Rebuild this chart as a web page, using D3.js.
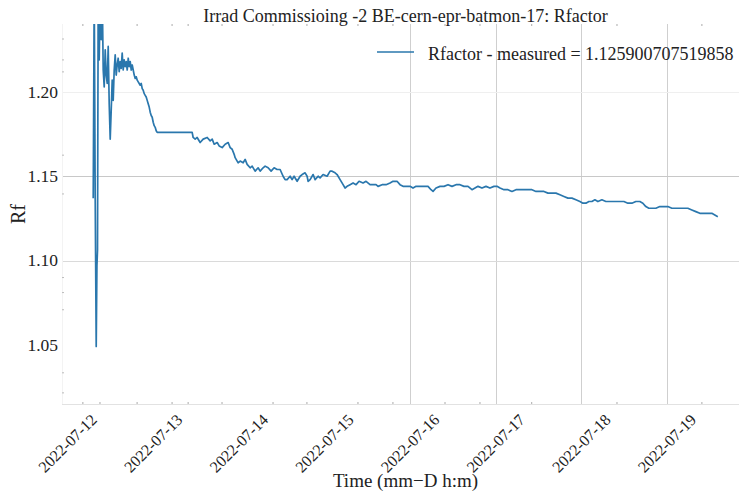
<!DOCTYPE html>
<html>
<head>
<meta charset="utf-8">
<script src="https://cdn.jsdelivr.net/npm/d3@7"></script>
<style>
  html, body { margin: 0; padding: 0; background: #fff; }
  svg { display: block; }
  text { font-family: "Liberation Serif", "DejaVu Serif", serif; fill: #222; }
</style>
</head>
<body>
<svg id="chart" width="739" height="502"></svg>
<script>
// Rfactor readings of BE-cern-epr-batmon-17, hours elapsed since 2022-07-12 00:00
const startDate = new Date(2022, 6, 12, 0, 0, 0);

const hours = [
  7.20, 7.48, 7.76, 8.04, 8.24, 8.40, 8.60, 8.88, 9.16, 9.44, 9.72, 10.00, 10.28, 10.56, 10.84,
  11.12, 11.40, 11.68, 11.96, 12.24, 12.52, 12.80, 13.08, 13.36, 13.64, 13.92, 14.20, 14.48, 14.76,
  15.04, 15.32, 15.60, 15.88, 16.16, 16.45, 16.73, 17.01, 17.29, 17.57, 17.85, 18.13, 18.41, 18.69,
  18.97, 19.25, 19.53, 19.81, 20.09, 20.37, 20.65, 20.93, 21.21, 21.49, 21.77, 22.05, 22.33, 22.61,
  22.89, 23.17, 23.45, 23.73, 24.01, 24.29, 24.57, 24.85, 25.13, 34.93,
  35.21, 35.77, 36.33, 37.17, 38.02, 39.14, 39.98, 40.54, 41.10, 41.94, 42.50, 43.34, 44.18, 45.02,
  45.58, 46.14, 46.70, 46.98, 47.54, 47.82, 48.38, 49.22, 49.78, 50.34, 51.18, 51.74, 52.58, 53.42,
  53.98, 54.82, 55.38, 56.22, 57.06, 57.90, 58.74, 59.58, 60.42, 60.98, 61.54, 62.38, 62.94, 63.50,
  64.35, 65.19, 65.75, 66.59, 67.15, 67.43, 67.99, 68.83, 69.39, 70.23, 70.79, 71.63, 72.75, 73.59,
  74.15, 74.99, 75.55, 76.39, 77.23, 77.79, 78.35, 79.19, 80.03, 80.87, 81.71, 82.83, 83.67, 84.79,
  85.63, 86.47, 87.03, 88.15, 89.27, 90.39, 91.23, 92.35, 93.19, 94.03, 95.15, 95.99, 96.83, 97.68,
  98.80, 99.92, 101.04, 101.88, 102.44, 103.28, 104.40, 105.52, 106.64, 107.76, 108.88, 110.00,
  111.12, 112.24, 113.36, 114.20, 115.04, 116.16, 117.28, 118.40, 119.52, 120.37, 121.21, 122.33,
  123.45, 124.57, 125.69, 126.81, 127.93, 129.05, 130.17, 131.29, 132.41, 133.53, 134.65, 135.77,
  136.89, 138.01, 139.13, 140.25, 141.37, 142.49, 143.61, 144.45, 145.29, 146.13, 146.97, 147.81,
  148.65, 149.77, 150.89, 152.01, 153.13, 153.97, 154.81, 155.93, 157.05, 158.17, 159.29, 160.41,
  161.25, 162.09, 162.93, 163.77, 164.89, 166.01, 167.13, 168.25, 169.38, 170.50, 171.62, 172.74,
  173.86, 174.98, 176.10, 177.22, 178.06, 178.90, 179.74, 180.58, 181.42, 182.26
];

const rfactor = [
  1.137, 1.260, 1.136, 1.049, 1.097, 1.106, 1.260, 1.219, 1.260, 1.231, 1.260, 1.213, 1.203, 1.225, 1.210,
  1.205, 1.227, 1.193, 1.172, 1.189, 1.207, 1.195, 1.213, 1.222, 1.210, 1.216, 1.220, 1.212, 1.218,
  1.214, 1.223, 1.213, 1.219, 1.215, 1.218, 1.213, 1.220, 1.215, 1.218, 1.213, 1.216, 1.213, 1.210,
  1.208, 1.209, 1.207, 1.206, 1.205, 1.204, 1.205, 1.202, 1.201, 1.199, 1.198, 1.197, 1.195, 1.193,
  1.191, 1.188, 1.186, 1.185, 1.182, 1.180, 1.179, 1.177, 1.176, 1.176,
  1.173, 1.172, 1.173, 1.170, 1.172, 1.173, 1.171, 1.172, 1.169, 1.170, 1.168, 1.167, 1.169, 1.170,
  1.167, 1.166, 1.163, 1.161, 1.159, 1.158, 1.159, 1.158, 1.160, 1.157, 1.155, 1.156, 1.153, 1.155,
  1.153, 1.155, 1.156, 1.155, 1.153, 1.155, 1.154, 1.154, 1.150, 1.148, 1.148, 1.150, 1.148, 1.150,
  1.147, 1.150, 1.151, 1.152, 1.150, 1.147, 1.148, 1.151, 1.148, 1.150, 1.149, 1.151, 1.150, 1.153,
  1.153, 1.152, 1.151, 1.148, 1.145, 1.143, 1.144, 1.145, 1.146, 1.145, 1.147, 1.146, 1.147, 1.145,
  1.145, 1.145, 1.144, 1.145, 1.145, 1.146, 1.147, 1.147, 1.145, 1.144, 1.144, 1.144, 1.143, 1.144,
  1.144, 1.144, 1.144, 1.142, 1.141, 1.143, 1.144, 1.144, 1.145, 1.144, 1.145, 1.145,
  1.144, 1.144, 1.142, 1.143, 1.144, 1.143, 1.144, 1.143, 1.144, 1.144, 1.143, 1.142,
  1.142, 1.141, 1.142, 1.142, 1.142, 1.142, 1.142, 1.141, 1.141, 1.141, 1.140, 1.140,
  1.140, 1.139, 1.138, 1.137, 1.137, 1.136, 1.135, 1.134, 1.134, 1.135, 1.135, 1.136,
  1.135, 1.136, 1.135, 1.135, 1.135, 1.135, 1.135, 1.135, 1.134, 1.134, 1.135, 1.135,
  1.134, 1.132, 1.131, 1.131, 1.131, 1.132, 1.132, 1.132, 1.131, 1.131, 1.131, 1.131,
  1.131, 1.130, 1.129, 1.128, 1.128, 1.128, 1.128, 1.128, 1.127, 1.126
];

const lastMeasured = 1.125900707519858;

const dateTickLabels = ["2022-07-12", "2022-07-13", "2022-07-14", "2022-07-15",
                        "2022-07-16", "2022-07-17", "2022-07-18", "2022-07-19"];
const yTickValues = [1.05, 1.10, 1.15, 1.20];
const yMinorTicks = [1.0215, 1.0334, 1.0708, 1.081, 1.0899, 1.1395, 1.1625, 1.2119, 1.219, 1.2314];
const xMinorTickHours = [4.3, 9.1, 19.5, 29.3, 33.8, 43.3, 57.6, 67.1, 81.4, 91.2, 105.8, 115.6, 130.1, 154.0, 177.8];

const titleText = "Irrad Commissioing -2 BE-cern-epr-batmon-17: Rfactor";
const xLabelText = "Time (mm\u2212D h:m)";
const yLabelText = "Rf";

// ---- layout ----
const HOUR = 3600 * 1000;
const plot = { left: 62, right: 749, top: 24, bottom: 404 };
const svg = d3.select("#chart");

const x = d3.scaleTime()
  .domain([new Date(+startDate - 1.55 * HOUR), new Date(+startDate + 191 * HOUR)])
  .range([plot.left, plot.right]);
const y = d3.scaleLinear()
  .domain([1.0149, 1.2403])
  .range([plot.bottom, plot.top]);

const parseDay = d3.timeParse("%Y-%m-%d");
const dateTicks = dateTickLabels.map(parseDay);
const points = hours.map((h, i) => ({ t: new Date(+startDate + h * HOUR), v: rfactor[i] }));

svg.append("defs").append("clipPath").attr("id", "plotClip")
  .append("rect")
  .attr("x", plot.left).attr("y", plot.top)
  .attr("width", plot.right - plot.left).attr("height", plot.bottom - plot.top);

// grid
const grid = svg.append("g");
grid.selectAll("line.vgrid")
  .data(dateTicks.filter(d => d >= parseDay("2022-07-16")))
  .join("line")
  .attr("x1", d => Math.round(x(d)) + 0.5).attr("x2", d => Math.round(x(d)) + 0.5)
  .attr("y1", plot.top).attr("y2", plot.bottom)
  .attr("stroke", "#cfcfcf").attr("stroke-width", 1);
const hGridColor = v => v > 1.175 ? "#efefef" : (v > 1.125 ? "#c8c8c8" : (v > 1.075 ? "#dadada" : "none"));
grid.selectAll("line.hgrid")
  .data(yTickValues)
  .join("line")
  .attr("x1", plot.left).attr("x2", plot.right)
  .attr("y1", d => Math.round(y(d)) + 0.5).attr("y2", d => Math.round(y(d)) + 0.5)
  .attr("stroke", d => hGridColor(d)).attr("stroke-width", 1);

// frame
svg.append("line")
  .attr("x1", plot.left).attr("x2", plot.right)
  .attr("y1", plot.bottom + 0.5).attr("y2", plot.bottom + 0.5)
  .attr("stroke", "#e2e2e2").attr("stroke-width", 1.2);
svg.append("line")
  .attr("x1", plot.left + 0.5).attr("x2", plot.left + 0.5)
  .attr("y1", plot.top).attr("y2", plot.bottom)
  .attr("stroke", "#f3f3f3").attr("stroke-width", 1);

// minor ticks
const minorX = xMinorTickHours.map(h => new Date(+startDate + h * HOUR));
svg.append("g").selectAll("line")
  .data(minorX.flatMap(d => [[d, plot.bottom - 2, plot.bottom], [d, plot.top, plot.top + 2]]))
  .join("line")
  .attr("x1", d => x(d[0])).attr("x2", d => x(d[0]))
  .attr("y1", d => d[1]).attr("y2", d => d[2])
  .attr("stroke", "#aaa").attr("stroke-width", 1);
svg.append("g").selectAll("line")
  .data(yMinorTicks)
  .join("line")
  .attr("x1", plot.left).attr("x2", plot.left + 2)
  .attr("y1", d => y(d)).attr("y2", d => y(d))
  .attr("stroke", "#bbb").attr("stroke-width", 1);

// data line
const line = d3.line().x(d => x(d.t)).y(d => y(d.v));
svg.append("path")
  .datum(points)
  .attr("clip-path", "url(#plotClip)")
  .attr("fill", "none")
  .attr("stroke", "#2a77ad")
  .attr("stroke-width", 1.7)
  .attr("stroke-linejoin", "round")
  .attr("d", line);

// y tick labels
svg.append("g").selectAll("text")
  .data(yTickValues)
  .join("text")
  .attr("x", plot.left - 4)
  .attr("y", d => y(d))
  .attr("dy", "0.34em")
  .attr("text-anchor", "end")
  .attr("font-size", 17.5)
  .text(d => d3.format(".2f")(d));

// x tick labels, rotated 45 degrees and centred under each tick
const xFont = 16;
const xLabels = svg.append("g").selectAll("text")
  .data(dateTicks)
  .join("text")
  .attr("font-size", xFont)
  .attr("text-anchor", "middle")
  .attr("dominant-baseline", "central")
  .text((d, i) => dateTickLabels[i]);
xLabels.each(function(d) {
  const L = this.getComputedTextLength();
  const half = (L + 0.68 * xFont) * Math.SQRT1_2 / 2;
  const cx = x(d), cy = plot.bottom + 9 + half;
  d3.select(this).attr("transform", `translate(${cx},${cy}) rotate(-45)`);
});

// axis titles
svg.append("text")
  .attr("x", (plot.left + plot.right) / 2).attr("y", 487)
  .attr("text-anchor", "middle").attr("font-size", 19)
  .text(xLabelText);
svg.append("text")
  .attr("transform", `translate(25,${(plot.top + plot.bottom) / 2}) rotate(-90)`)
  .attr("text-anchor", "middle").attr("font-size", 20)
  .text(yLabelText);

// title
svg.append("text")
  .attr("x", (plot.left + plot.right) / 2).attr("y", 22)
  .attr("text-anchor", "middle").attr("font-size", 18)
  .text(titleText);

// legend
const legend = svg.append("g");
legend.append("line")
  .attr("x1", 377).attr("x2", 414).attr("y1", 52).attr("y2", 52)
  .attr("stroke", "#2a77ad").attr("stroke-width", 1.7);
legend.append("text")
  .attr("x", 428).attr("y", 60)
  .attr("font-size", 18)
  .text(`Rfactor - measured = ${lastMeasured}`);
</script>
</body>
</html>
